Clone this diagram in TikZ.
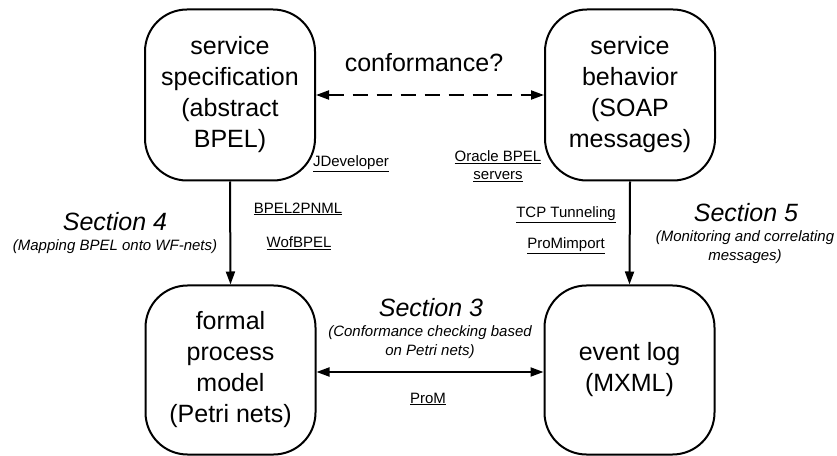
\documentclass[tikz,border=0pt]{standalone}
\usepackage{fontspec}
\setmainfont{Liberation Sans}
\usetikzlibrary{arrows.meta}
\begin{document}
\begin{tikzpicture}[x=1bp,y=-1bp,
  box/.style={draw, line width=2bp, rounded corners=42bp, minimum width=170bp, minimum height=171bp, align=center, font=\fontsize{25bp}{31bp}\selectfont, inner sep=0pt},
  conn/.style={line width=2bp, -{Triangle[length=13bp,width=9bp]}},
  both/.style={line width=2bp, {Triangle[length=13bp,width=9bp]}-{Triangle[length=13bp,width=9bp]}},
  tool/.style={font=\fontsize{15bp}{18bp}\selectfont, align=center, inner sep=0pt},
  big/.style={font=\fontsize{25bp}{30bp}\selectfont, inner sep=0pt},
  sec/.style={font=\fontsize{25bp}{30bp}\selectfont\itshape, inner sep=0pt},
  note/.style={font=\fontsize{15bp}{19bp}\selectfont\itshape, align=center, inner sep=0pt}]
\useasboundingbox (0,0) rectangle (837,456);

\node[box] (b1) at (230,95) {service\\specification\\(abstract\\BPEL)};
\node[box] (b2) at (630,95) {service\\behavior\\(SOAP\\messages)};
\node[box, minimum height=169bp] (b3) at (230.5,370) {formal\\process\\model\\(Petri nets)};
\node[box, minimum height=169bp] (b4) at (629.5,370) {event log\\(MXML)};

\draw[both, dash pattern=on 15bp off 9bp] (b1.east) -- (b2.west);
\draw[both] ([yshift=-2bp]b3.east) -- ([yshift=-2bp]b4.west);
\draw[conn] (b1.south) -- (b3.north);
\draw[conn] (b2.south) -- (b4.north);

\node[big] (conf) at (424,63) {conformance?};
\node[tool] (jdev) at (351,164) {\underline{JDeveloper}};
\node[tool] (obpel) at (498,166) {\underline{Oracle BPEL}\\\underline{servers}};
\node[tool] (b2p) at (298,209) {\underline{BPEL2PNML}};
\node[tool] (wof) at (299,243) {\underline{WofBPEL}};
\node[sec] (s4) at (115,222) {Section 4};
\node[note] (s4n) at (115,247) {(Mapping BPEL onto WF-nets)};
\node[tool] (tcp) at (566,215) {\underline{TCP Tunneling}};
\node[tool] (pmi) at (566,246) {\underline{ProMimport}};
\node[sec] (s5) at (746,213) {Section 5};
\node[note] (s5n) at (745,247.5) {(Monitoring and correlating\\messages)};
\node[sec] (s3) at (431,308) {Section 3};
\node[note] (s3n) at (430,342.5) {(Conformance checking based\\on Petri nets)};
\node[tool] (prom) at (428,399) {\underline{ProM}};
\end{tikzpicture}
\end{document}
